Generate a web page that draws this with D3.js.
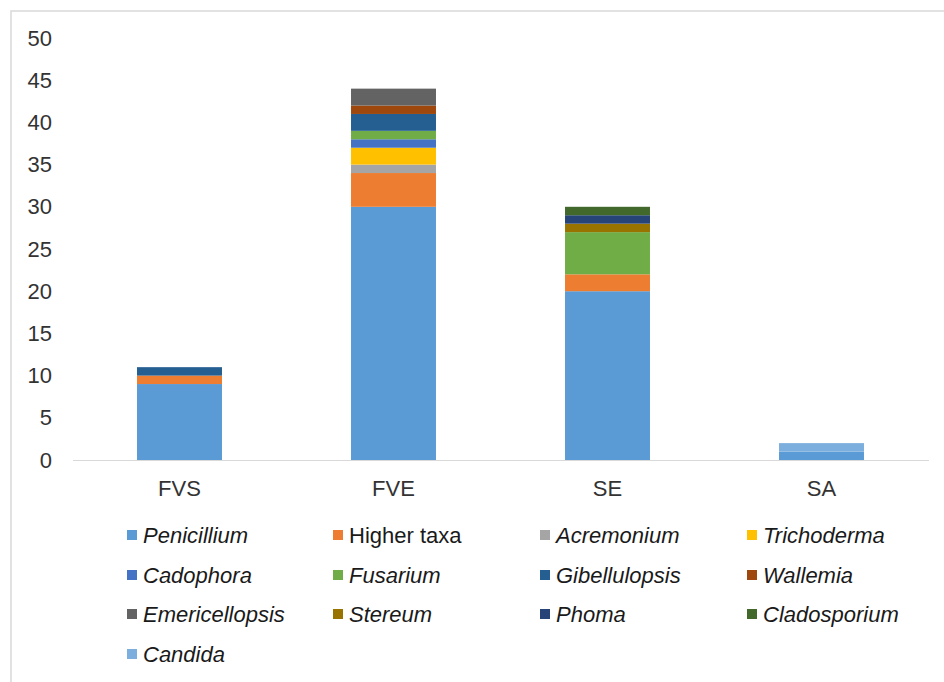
<!DOCTYPE html>
<html>
<head>
<meta charset="utf-8">
<script src="https://cdn.jsdelivr.net/npm/d3@7"></script>
<style>
  html, body { margin: 0; padding: 0; background: #fff; }
  svg { display: block; font-family: "Liberation Sans", Arial, sans-serif; }
</style>
</head>
<body>
<svg id="chart" width="944" height="682"></svg>
<script>
const categories = ["FVS", "FVE", "SE", "SA"];
const seriesNames = ["Penicillium", "Higher taxa", "Acremonium", "Trichoderma", "Cadophora", "Fusarium",
  "Gibellulopsis", "Wallemia", "Emericellopsis", "Stereum", "Phoma", "Cladosporium", "Candida"];
const penicillium   = [9, 30, 20, 1];
const higherTaxa    = [1, 4, 2, 0];
const acremonium    = [0, 1, 0, 0];
const trichoderma   = [0, 2, 0, 0];
const cadophora     = [0, 1, 0, 0];
const fusarium      = [0, 1, 5, 0];
const gibellulopsis = [1, 2, 0, 0];
const wallemia      = [0, 1, 0, 0];
const emericellopsis= [0, 2, 0, 0];
const stereum       = [0, 0, 1, 0];
const phoma         = [0, 0, 1, 0];
const cladosporium  = [0, 0, 1, 0];
const candida       = [0, 0, 0, 1];
const yTicks = [0, 5, 10, 15, 20, 25, 30, 35, 40, 45, 50];

const seriesValues = [penicillium, higherTaxa, acremonium, trichoderma, cadophora, fusarium,
  gibellulopsis, wallemia, emericellopsis, stereum, phoma, cladosporium, candida];
const colors = ["#5B9BD5", "#ED7D31", "#A5A5A5", "#FFC000", "#4472C4", "#70AD47",
  "#255E91", "#9E480E", "#636363", "#997300", "#264478", "#43682B", "#7CAFDD"];
const italic = [true, false, true, true, true, true, true, true, true, true, true, true, true];

const table = categories.map((c, i) => {
  const row = { cat: c };
  seriesNames.forEach((s, j) => row[s] = seriesValues[j][i]);
  return row;
});

const svg = d3.select("#chart");

// frame
svg.append("path")
  .attr("d", "M11,682 L11,11 L944,11")
  .attr("fill", "none").attr("stroke", "#d9d9d9").attr("stroke-width", 1.5);

const x = d3.scaleBand().domain(categories).range([72.5, 928.5]).paddingInner(0.603).paddingOuter(0.3015);
const y = d3.scaleLinear().domain([0, 50]).range([460, 38]);

const stacked = d3.stack().keys(seriesNames)(table);

// y axis labels
const yAxis = d3.axisLeft(y).tickValues(yTicks).tickSize(0).tickPadding(0);
const gy = svg.append("g").attr("transform", "translate(52,0)").call(yAxis);
gy.select(".domain").remove();
gy.selectAll("text").attr("font-size", 22).attr("fill", "#333")
  .attr("font-family", "Liberation Sans, Arial, sans-serif");

// bars
svg.append("g").selectAll("g").data(stacked).join("g")
  .attr("fill", (d, i) => colors[i])
  .selectAll("rect").data(d => d.filter(p => p[1] - p[0] > 0)).join("rect")
  .attr("x", d => x(d.data.cat))
  .attr("width", x.bandwidth())
  .attr("y", d => y(d[1]))
  .attr("height", d => y(d[0]) - y(d[1]));

// x axis
const xAxis = d3.axisBottom(x).tickSize(0).tickPadding(20);
const gx = svg.append("g").attr("transform", "translate(0,460)").call(xAxis);
gx.select(".domain").attr("stroke", "#d9d9d9").attr("stroke-width", 1.2);
gx.selectAll("text").attr("font-size", 22).attr("fill", "#333")
  .attr("font-family", "Liberation Sans, Arial, sans-serif");

// legend
const colX = [127, 333, 540, 747];
const rowY = [535, 575, 614, 654];
const legend = svg.append("g");
seriesNames.forEach((s, i) => {
  const cx = colX[i % 4], cy = rowY[Math.floor(i / 4)];
  const g = legend.append("g").attr("transform", `translate(${cx},${cy})`);
  g.append("rect").attr("x", 0).attr("y", -5).attr("width", 10).attr("height", 10).attr("fill", colors[i]);
  g.append("text").attr("x", 16).attr("y", 0).attr("dy", "0.35em")
    .attr("font-size", 22).attr("fill", "#1a1a1a")
    .attr("font-style", italic[i] ? "italic" : "normal")
    .text(s);
});
</script>
</body>
</html>
